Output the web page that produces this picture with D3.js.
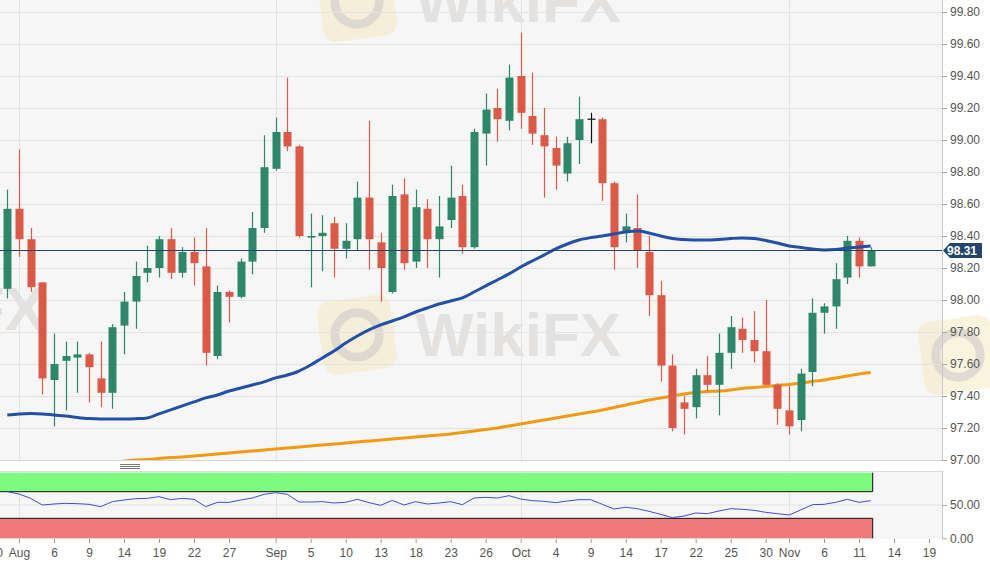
<!DOCTYPE html>
<html>
<head>
<meta charset="utf-8">
<script src="https://cdn.jsdelivr.net/npm/d3@7"></script>
<style>
  html, body { margin: 0; padding: 0; background: #fff; }
  svg { display: block; font-family: 'Liberation Sans', Arial, sans-serif; }
</style>
</head>
<body>
<div id="chart"></div>
<script>
;(function() {
  'use strict';

  // trading days, Jul 31 .. Nov 12 2019
  var dates = [
    '2019-07-31','2019-08-01','2019-08-02','2019-08-05','2019-08-06','2019-08-07','2019-08-08','2019-08-09',
    '2019-08-12','2019-08-13','2019-08-14','2019-08-15','2019-08-16','2019-08-19','2019-08-20','2019-08-21',
    '2019-08-22','2019-08-23','2019-08-26','2019-08-27','2019-08-28','2019-08-29','2019-08-30','2019-09-02',
    '2019-09-03','2019-09-04','2019-09-05','2019-09-06','2019-09-09','2019-09-10','2019-09-11','2019-09-12',
    '2019-09-13','2019-09-16','2019-09-17','2019-09-18','2019-09-19','2019-09-20','2019-09-23','2019-09-24',
    '2019-09-25','2019-09-26','2019-09-27','2019-09-30','2019-10-01','2019-10-02','2019-10-03','2019-10-04',
    '2019-10-07','2019-10-08','2019-10-09','2019-10-10','2019-10-11','2019-10-14','2019-10-15','2019-10-16',
    '2019-10-17','2019-10-18','2019-10-21','2019-10-22','2019-10-23','2019-10-24','2019-10-25','2019-10-28',
    '2019-10-29','2019-10-30','2019-10-31','2019-11-01','2019-11-04','2019-11-05','2019-11-06','2019-11-07',
    '2019-11-08','2019-11-11','2019-11-12'
  ];

  var open = [
    98.07, 98.57, 98.38, 98.11, 97.50, 97.62, 97.64, 97.66, 97.51, 97.42, 97.84, 97.99, 98.17, 98.20, 98.38,
    98.17, 98.30, 98.21, 97.65, 98.05, 98.02, 98.24, 98.45, 98.82, 99.05, 98.96, 98.39, 98.40, 98.48, 98.32,
    98.38, 98.64, 98.36, 98.05, 98.66, 98.24, 98.57, 98.38, 98.50, 98.65, 98.33, 99.04, 99.20, 99.12, 99.40,
    99.15, 99.03, 98.95, 98.79, 99.00, 99.13, 99.13, 98.73, 98.43, 98.45, 98.30, 98.03, 97.59, 97.36, 97.33,
    97.53, 97.47, 97.67, 97.82, 97.75, 97.68, 97.47, 97.31, 97.25, 97.55, 97.92, 97.96, 98.14, 98.37, 98.21
  ];
  var high = [
    98.69, 98.94, 98.45, 98.11, 97.79, 97.74, 97.74, 97.67, 97.74, 97.85, 98.05, 98.24, 98.34, 98.40, 98.45,
    98.33, 98.39, 98.45, 98.09, 98.06, 98.26, 98.55, 99.03, 99.14, 99.39, 98.97, 98.54, 98.53, 98.52, 98.48,
    98.74, 99.12, 98.42, 98.72, 98.76, 98.69, 98.63, 98.65, 98.84, 98.72, 99.07, 99.29, 99.32, 99.47, 99.67,
    99.42, 99.20, 99.02, 99.02, 99.27, 99.17, 99.14, 98.74, 98.54, 98.66, 98.40, 98.12, 97.66, 97.40, 97.57,
    97.65, 97.79, 97.90, 97.89, 97.93, 98.00, 97.48, 97.46, 97.57, 98.01, 97.98, 98.23, 98.40, 98.39, 98.33
  ];
  var low = [
    98.01, 98.27, 98.05, 97.41, 97.21, 97.31, 97.42, 97.36, 97.33, 97.32, 97.66, 97.82, 98.11, 98.14, 98.13,
    98.14, 98.09, 97.59, 97.63, 97.86, 98.01, 98.16, 98.42, 98.81, 98.93, 98.39, 98.08, 98.18, 98.14, 98.26,
    98.31, 98.19, 97.99, 98.04, 98.19, 98.20, 98.20, 98.14, 98.45, 98.29, 98.32, 98.84, 98.99, 99.06, 99.07,
    98.97, 98.64, 98.69, 98.74, 98.85, 98.98, 98.62, 98.19, 98.36, 98.20, 97.90, 97.49, 97.18, 97.16, 97.26,
    97.43, 97.28, 97.57, 97.67, 97.61, 97.47, 97.22, 97.16, 97.18, 97.46, 97.79, 97.82, 98.10, 98.14, 98.21
  ];
  var close = [
    98.57, 98.38, 98.08, 97.51, 97.60, 97.65, 97.66, 97.58, 97.42, 97.83, 97.99, 98.15, 98.20, 98.38, 98.17,
    98.30, 98.23, 97.67, 98.05, 98.02, 98.24, 98.45, 98.83, 99.05, 98.96, 98.40, 98.40, 98.42, 98.32, 98.37,
    98.64, 98.38, 98.20, 98.65, 98.23, 98.58, 98.38, 98.46, 98.64, 98.33, 99.05, 99.19, 99.13, 99.39, 99.17,
    99.04, 98.96, 98.84, 98.98, 99.13, 99.13, 98.73, 98.33, 98.46, 98.31, 98.03, 97.59, 97.20, 97.32, 97.53,
    97.47, 97.67, 97.83, 97.75, 97.68, 97.47, 97.32, 97.21, 97.54, 97.92, 97.96, 98.13, 98.37, 98.21, 98.31
  ];

  // moving averages as drawn (blue ~50d, orange ~200d)
  var maFast = [
    97.281, 97.288, 97.291, 97.288, 97.281, 97.275, 97.266, 97.259, 97.256, 97.256,
    97.256, 97.258, 97.263, 97.288, 97.313, 97.338, 97.363, 97.388, 97.406, 97.431,
    97.450, 97.469, 97.488, 97.513, 97.531, 97.556, 97.594, 97.638, 97.681, 97.731,
    97.775, 97.813, 97.844, 97.869, 97.894, 97.925, 97.950, 97.975, 97.994, 98.013,
    98.050, 98.088, 98.125, 98.163, 98.206, 98.244, 98.281, 98.319, 98.350, 98.375,
    98.390, 98.400, 98.413, 98.425, 98.431, 98.419, 98.400, 98.384, 98.378, 98.375,
    98.375, 98.378, 98.384, 98.388, 98.384, 98.372, 98.356, 98.338, 98.328, 98.319,
    98.313, 98.316, 98.325, 98.331, 98.338
  ];
  var maSlow = [
    null, null, null, null, null, null, null, null, null, null,
    96.994, 97.000, 97.003, 97.009, 97.016, 97.019, 97.025, 97.031, 97.038, 97.044,
    97.050, 97.056, 97.063, 97.069, 97.075, 97.081, 97.088, 97.094, 97.100, 97.106,
    97.113, 97.119, 97.125, 97.131, 97.138, 97.144, 97.150, 97.156, 97.163, 97.172,
    97.181, 97.190, 97.200, 97.213, 97.225, 97.238, 97.250, 97.263, 97.275, 97.288,
    97.300, 97.313, 97.328, 97.344, 97.359, 97.375, 97.388, 97.400, 97.413, 97.422,
    97.428, 97.431, 97.438, 97.447, 97.453, 97.459, 97.466, 97.472, 97.481, 97.491,
    97.500, 97.513, 97.525, 97.538, 97.547
  ];

  var rsi = [
    70, 66.5, 60, 50, 51.5, 52.5, 52, 51, 47.5, 55,
    57.5, 59.5, 60, 62.5, 58, 60, 58.5, 47.5, 54, 54,
    57.5, 60.5, 66, 68.5, 66, 54.5, 54.5, 55, 53, 54,
    58.5, 53.5, 49.5, 57, 50, 55, 51.5, 53, 55, 50.5,
    60.5, 61.5, 60.5, 64, 59, 56.5, 55.5, 53.5, 56, 58,
    58, 51, 44, 46.5, 44.5, 40.5, 36, 31, 33.5, 38,
    37, 41, 44.5, 43.5, 42, 39, 37, 35, 42.5, 50.5,
    51, 54, 58.5, 54, 56.5
  ];

  var tickDates = [
    '2019-07-30','2019-08-01','2019-08-06','2019-08-09','2019-08-14','2019-08-19','2019-08-22','2019-08-27',
    '2019-09-02','2019-09-05','2019-09-10','2019-09-13','2019-09-18','2019-09-23','2019-09-26',
    '2019-10-01','2019-10-04','2019-10-09','2019-10-14','2019-10-17','2019-10-22','2019-10-25','2019-10-30',
    '2019-11-01','2019-11-06','2019-11-11','2019-11-14','2019-11-19'
  ];
  var tickLabels = [
    '30','Aug','6','9','14','19','22','27',
    'Sep','5','10','13','18','23','26',
    'Oct','4','9','14','17','22','25','30',
    'Nov','6','11','14','19'
  ];
  var monthStarts = ['2019-08-01','2019-09-02','2019-10-01','2019-11-01'];
  var priceTicks = d3.range(97, 99.81, 0.2);
  var rsiTicks = [0, 50];
  var rsiBands = [70, 30];
  var lastPrice = 98.31;

  var width = 990, height = 567;
  var plotRight = 942;
  var main = { top: 0, bottom: 460 };
  var ind = { top: 471, bottom: 539 };

  var parse = d3.timeParse('%Y-%m-%d');
  var first = parse(dates[0]);

  // index in trading days (weekdays) relative to the first bar
  function barIndex(s) {
    var d = parse(s);
    if (d >= first) {
      return d3.timeDay.range(first, d).filter(function(t) { return t.getDay() % 6 !== 0; }).length;
    }
    return -d3.timeDay.range(d, first).filter(function(t) { return t.getDay() % 6 !== 0; }).length;
  }

  var bars = dates.map(function(d, i) {
    return { date: d, i: i, o: open[i], h: high[i], l: low[i], c: close[i] };
  });

  var x = d3.scaleLinear().domain([0, dates.length - 1]).range([7.3, 870.7]);
  var y = d3.scaleLinear().domain([97, 99.8]).range([main.bottom, 12]);
  var yR = d3.scaleLinear().domain([0, 100]).range([538.3, 471.7]);

  var colors = {
    up: '#2f876b', down: '#da5a47', flat: '#111',
    fast: '#2350a6', slow: '#f29a12',
    grid: '#e3e3e3', bg: '#f6f6f6', text: '#555', price: '#24446d'
  };

  var svg = d3.select('#chart').append('svg')
    .attr('width', width).attr('height', height);

  svg.append('defs').append('clipPath').attr('id', 'clipMain')
    .append('rect').attr('x', 0).attr('y', main.top).attr('width', plotRight).attr('height', main.bottom - main.top);

  /* ------- BACKGROUNDS ------- */
  svg.append('rect').attr('x', 0).attr('y', main.top).attr('width', plotRight)
    .attr('height', main.bottom - main.top).attr('fill', colors.bg);
  svg.append('rect').attr('x', 0).attr('y', ind.top).attr('width', plotRight)
    .attr('height', ind.bottom - ind.top).attr('fill', colors.bg);

  /* ------- WATERMARKS ------- */
  var wm = svg.append('g').attr('class', 'watermark');
  function logo(cx, cy, s) {
    wm.append('rect').attr('x', cx - s / 2).attr('y', cy - s / 2).attr('width', s).attr('height', s)
      .attr('rx', s * 0.18).attr('fill', '#f4e6b8').attr('opacity', 0.45)
      .attr('transform', 'rotate(-8,' + cx + ',' + cy + ')');
    wm.append('circle').attr('cx', cx).attr('cy', cy).attr('r', s * 0.3)
      .attr('fill', 'none').attr('stroke', '#cfcaca').attr('stroke-width', s * 0.12).attr('opacity', 0.6);
  }
  function mark(tx, ty, fs, txt) {
    wm.append('text').attr('x', tx).attr('y', ty).attr('font-size', fs).attr('font-weight', 'bold')
      .attr('fill', '#d2cfcc').attr('opacity', 0.5).text(txt);
  }
  logo(357, 335, 74); mark(415, 356, 62, 'WikiFX');
  logo(357, 2, 74); mark(415, 22, 62, 'WikiFX');
  logo(958, 355, 74);
  mark(-160, 330, 62, 'WikiFX');

  /* ------- GRID ------- */
  svg.append('g').selectAll('line').data(priceTicks).enter().append('line')
    .attr('x1', 0).attr('x2', plotRight)
    .attr('y1', function(d) { return Math.round(y(d)) + 0.5; })
    .attr('y2', function(d) { return Math.round(y(d)) + 0.5; })
    .attr('stroke', colors.grid);
  svg.append('g').selectAll('line').data(monthStarts).enter().append('line')
    .attr('x1', function(d) { return Math.round(x(barIndex(d))) + 0.5; })
    .attr('x2', function(d) { return Math.round(x(barIndex(d))) + 0.5; })
    .attr('y1', main.top).attr('y2', main.bottom).attr('stroke', colors.grid);
  svg.append('g').selectAll('line').data(monthStarts).enter().append('line')
    .attr('x1', function(d) { return Math.round(x(barIndex(d))) + 0.5; })
    .attr('x2', function(d) { return Math.round(x(barIndex(d))) + 0.5; })
    .attr('y1', ind.top).attr('y2', ind.bottom).attr('stroke', colors.grid);
  svg.append('line').attr('x1', 0).attr('x2', plotRight).attr('y1', main.bottom + 0.5).attr('y2', main.bottom + 0.5)
    .attr('stroke', '#d6d6d6');
  svg.append('line').attr('x1', 0).attr('x2', plotRight).attr('y1', ind.top + 0.5).attr('y2', ind.top + 0.5)
    .attr('stroke', '#dcdcdc');
  svg.append('line').attr('x1', 0).attr('x2', plotRight).attr('y1', yR(50)).attr('y2', yR(50))
    .attr('stroke', colors.grid);

  /* ------- MOVING AVERAGES ------- */
  var plot = svg.append('g').attr('clip-path', 'url(#clipMain)');

  var maLine = function(arr) {
    return d3.line()
      .defined(function(d) { return d != null; })
      .x(function(d, i) { return x(i); })
      .y(function(d) { return y(d); })
      .curve(d3.curveMonotoneX)(arr);
  };

  plot.append('path').attr('d', maLine(maSlow)).attr('fill', 'none')
    .attr('stroke', colors.slow).attr('stroke-width', 3);

  /* ------- CANDLES ------- */
  function barColor(d) {
    if (d.c > d.o) return colors.up;
    if (d.c < d.o) return colors.down;
    return colors.flat;
  }
  var bw = 8;
  var candle = plot.append('g').selectAll('g.candle').data(bars).enter()
    .append('g').attr('class', 'candle');
  candle.append('line')
    .attr('x1', function(d) { return Math.round(x(d.i)) + 0.5; })
    .attr('x2', function(d) { return Math.round(x(d.i)) + 0.5; })
    .attr('y1', function(d) { return y(d.h); })
    .attr('y2', function(d) { return y(d.l); })
    .attr('stroke', barColor).attr('stroke-width', 1.2);
  candle.filter(function(d) { return d.o !== d.c; }).append('rect')
    .attr('x', function(d) { return Math.round(x(d.i)) + 0.5 - bw / 2; })
    .attr('y', function(d) { return y(Math.max(d.o, d.c)); })
    .attr('width', bw)
    .attr('height', function(d) { return Math.max(1.5, Math.abs(y(d.o) - y(d.c))); })
    .attr('fill', barColor);
  candle.filter(function(d) { return d.o === d.c; }).append('line')
    .attr('x1', function(d) { return Math.round(x(d.i)) + 0.5 - bw / 2; })
    .attr('x2', function(d) { return Math.round(x(d.i)) + 0.5 + bw / 2; })
    .attr('y1', function(d) { return y(d.o); })
    .attr('y2', function(d) { return y(d.o); })
    .attr('stroke', colors.flat).attr('stroke-width', 1.2);

  plot.append('path').attr('d', maLine(maFast)).attr('fill', 'none')
    .attr('stroke', colors.fast).attr('stroke-width', 3);

  /* ------- LAST PRICE LINE ------- */
  svg.append('line').attr('x1', 0).attr('x2', plotRight)
    .attr('y1', Math.round(y(lastPrice)) + 0.5).attr('y2', Math.round(y(lastPrice)) + 0.5)
    .attr('stroke', colors.price).attr('stroke-width', 1.2);

  /* ------- RIGHT AXES ------- */
  var axisMain = d3.axisRight(y).tickValues(priceTicks).tickSize(5).tickPadding(3)
    .tickFormat(d3.format('.2f'));
  var gA = svg.append('g').attr('transform', 'translate(' + plotRight + ',0)').call(axisMain);
  gA.select('.domain').attr('stroke', '#c8c8c8').attr('d', 'M0.5,0V' + main.bottom);
  gA.selectAll('.tick line').attr('stroke', '#aaa');
  gA.selectAll('text').attr('fill', colors.text).attr('font-size', 12)
    .attr('font-family', "'Liberation Sans', Arial, sans-serif");

  var axisInd = d3.axisRight(yR).tickValues(rsiTicks).tickSize(5).tickPadding(3)
    .tickFormat(d3.format('.2f'));
  var gI = svg.append('g').attr('transform', 'translate(' + plotRight + ',0)').call(axisInd);
  gI.select('.domain').attr('stroke', '#c8c8c8').attr('d', 'M0.5,' + ind.top + 'V' + ind.bottom);
  gI.selectAll('.tick line').attr('stroke', '#aaa');
  gI.selectAll('text').attr('fill', colors.text).attr('font-size', 12)
    .attr('font-family', "'Liberation Sans', Arial, sans-serif");

  // price tag
  var py = Math.round(y(lastPrice)) + 0.5;
  svg.append('path')
    .attr('d', 'M' + (plotRight + 1) + ',' + py + 'L' + (plotRight + 8) + ',' + (py - 7.5) +
      'H982V' + (py + 7.5) + 'H' + (plotRight + 8) + 'Z')
    .attr('fill', colors.price);
  svg.append('text').attr('x', 962).attr('y', py + 4.5).attr('text-anchor', 'middle')
    .attr('fill', '#fff').attr('font-size', 12).attr('font-weight', 'bold').text(d3.format('.2f')(lastPrice));

  /* ------- INDICATOR ------- */
  var bandRight = x(dates.length - 1) + 2;
  svg.append('rect').attr('x', 0).attr('y', yR(100) + 1).attr('width', bandRight)
    .attr('height', yR(rsiBands[0]) - yR(100) - 1).attr('fill', '#7efb7e');
  svg.append('rect').attr('x', 0).attr('y', yR(rsiBands[1])).attr('width', bandRight)
    .attr('height', yR(0) - yR(rsiBands[1])).attr('fill', '#f07a7a');
  svg.append('path')
    .attr('d', 'M0,' + yR(rsiBands[0]) + 'H' + bandRight + 'V' + (yR(100) + 1))
    .attr('fill', 'none').attr('stroke', '#111').attr('stroke-width', 1);
  svg.append('path')
    .attr('d', 'M0,' + yR(rsiBands[1]) + 'H' + bandRight + 'V' + yR(0))
    .attr('fill', 'none').attr('stroke', '#111').attr('stroke-width', 1);

  svg.append('path')
    .attr('d', d3.line().x(function(d, i) { return x(i); }).y(function(d) { return yR(d); })(rsi))
    .attr('fill', 'none').attr('stroke', '#3c4fd6').attr('stroke-width', 1);

  // splitter handle
  svg.append('g').selectAll('line').data([0, 2, 4]).enter().append('line')
    .attr('x1', 120).attr('x2', 140)
    .attr('y1', function(d) { return 464.5 + d; }).attr('y2', function(d) { return 464.5 + d; })
    .attr('stroke', '#777').attr('stroke-width', 1);

  /* ------- DATE AXIS ------- */
  var tickIdx = tickDates.map(barIndex);
  var axisX = d3.axisBottom(x).tickValues(tickIdx).tickSize(4).tickPadding(5)
    .tickFormat(function(d, i) { return tickLabels[i]; });
  var gX = svg.append('g').attr('transform', 'translate(0,' + ind.bottom + ')').call(axisX);
  gX.select('.domain').remove();
  gX.selectAll('.tick line').attr('stroke', '#999');
  gX.selectAll('text').attr('fill', colors.text).attr('font-size', 12)
    .attr('font-family', "'Liberation Sans', Arial, sans-serif");
})();
</script>
</body>
</html>
